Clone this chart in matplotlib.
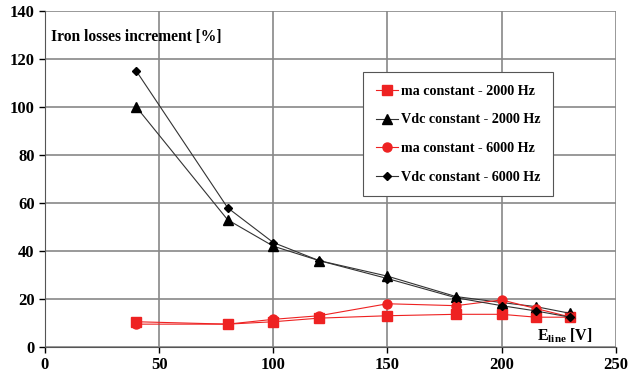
import matplotlib
matplotlib.use("Agg")
import matplotlib.pyplot as plt

x = [40, 80, 100, 120, 150, 180, 200, 215, 230]
ma_2000 = [10.5, 9.5, 10.5, 12.0, 13.0, 13.6, 13.6, 12.4, 12.4]
vdc_2000 = [100.0, 53.0, 42.0, 36.0, 29.5, 21.0, 18.5, 16.8, 14.0]
ma_6000 = [9.5, 9.5, 11.5, 13.0, 18.0, 17.2, 19.6, 16.0, 12.5]
vdc_6000 = [115.0, 58.0, 43.5, 36.0, 28.5, 20.5, 17.2, 15.0, 12.4]
labels = ["ma constant - 2000 Hz", "Vdc constant - 2000 Hz",
          "ma constant - 6000 Hz", "Vdc constant - 6000 Hz"]
xticks = [0, 50, 100, 150, 200, 250]
yticks = [0, 20, 40, 60, 80, 100, 120, 140]

plt.rcParams['font.family'] = ['Liberation Serif', 'DejaVu Serif']
plt.rcParams['font.weight'] = 'bold'
plt.rcParams['mathtext.fontset'] = 'custom'
plt.rcParams['mathtext.rm'] = 'Liberation Serif:bold'
plt.rcParams['mathtext.bf'] = 'Liberation Serif:bold'
plt.rcParams['mathtext.it'] = 'Liberation Serif:bold'

fig = plt.figure(figsize=(6.29, 3.8), dpi=100)
ax = fig.add_axes([0.0715, 0.087, 0.9075, 0.884])

red = '#ee2222'
ax.plot(x, ma_2000, color=red, marker='s', markersize=6.5, linewidth=0.8, label=labels[0], zorder=3)
ax.plot(x, vdc_2000, color='#333333', marker='^', markersize=6.5, markerfacecolor='black',
        markeredgecolor='black', linewidth=0.8, label=labels[1], zorder=3)
ax.plot(x, ma_6000, color=red, marker='o', markersize=6.5, linewidth=0.8, label=labels[2], zorder=3)
ax.plot(x, vdc_6000, color='#333333', marker='D', markersize=4.5, markerfacecolor='black',
        markeredgecolor='black', linewidth=0.8, label=labels[3], zorder=3)

ax.set_xlim(0, 250)
ax.set_ylim(0, 140)
ax.set_xticks(xticks)
ax.set_yticks(yticks)
ax.tick_params(labelsize=12, direction='out', length=4, width=1)
for lab in ax.get_xticklabels() + ax.get_yticklabels():
    lab.set_fontweight('bold')
ax.grid(True, color='#888888', linewidth=1.2)
ax.set_axisbelow(True)
for s in ['top', 'right']:
    ax.spines[s].set_visible(False)
ax.spines['left'].set_color('#555555')
ax.spines['bottom'].set_color('#555555')

ax.text(2.5, 129, "Iron losses increment [%]", fontsize=11.2, fontweight='bold', va='center', ha='left')
ax.text(215.5, 4.5, r"E$_{\mathrm{line}}$ [V]", fontsize=11.5, fontweight='bold', ha='left', va='center')

leg = ax.legend(loc='upper left', bbox_to_anchor=(0.557, 0.818), fontsize=10.2,
                frameon=True, fancybox=False, edgecolor='#555555', framealpha=1,
                labelspacing=1.1, handlelength=1.6, handletextpad=0.2, borderpad=0.9,
                borderaxespad=0)
leg.get_frame().set_linewidth(0.8)
for t in leg.get_texts():
    t.set_fontweight('bold')

fig.savefig("out.png", dpi=100)
